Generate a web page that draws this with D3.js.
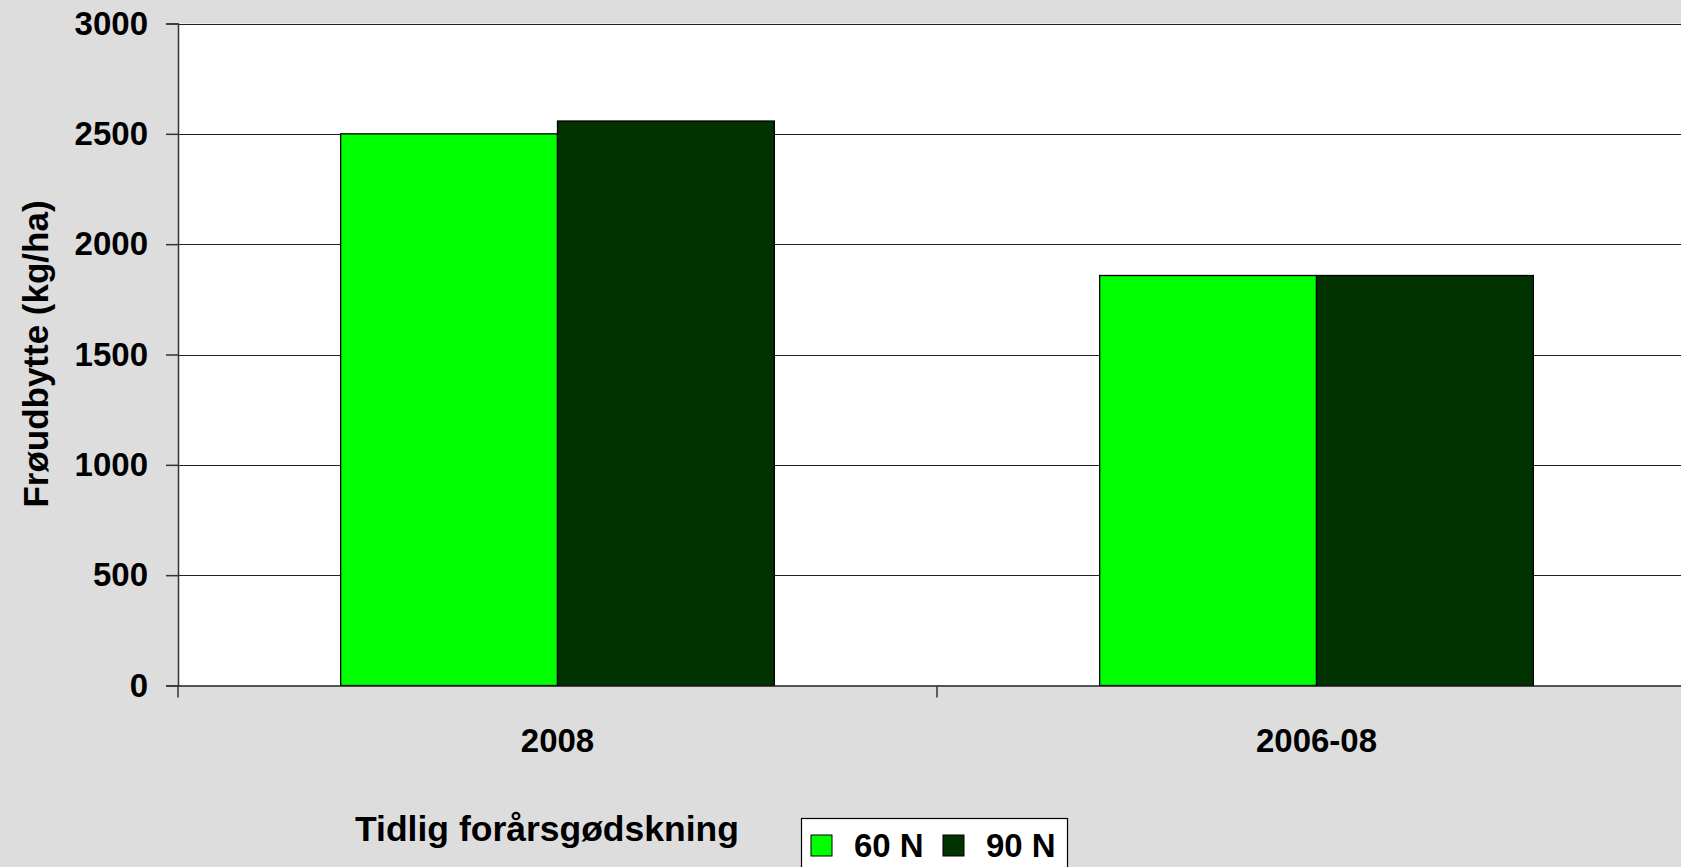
<!DOCTYPE html>
<html>
<head>
<meta charset="utf-8">
<script src="https://cdn.jsdelivr.net/npm/d3@7"></script>
<style>
  body { margin: 0; background: #dddddd; }
  svg { display: block; font-family: "Liberation Sans", Arial, sans-serif; font-weight: bold; }
</style>
</head>
<body>
<svg></svg>
<script>
let categories = ['2008', '2006-08']
let seriesNames = ['60 N', '90 N']
let seriesColors = ['#00ff00', '#003300']
let values60 = [2500, 1858]
let values90 = [2558, 1858]
let yTicks = [0, 500, 1000, 1500, 2000, 2500, 3000]

let width = 1681
let height = 867
let padLeft = 178
let padTop = 23.5
let plotW = 1518   // right side runs past the window, like the original
let plotH = 662

let svg = d3.select('svg').attr('width', width).attr('height', height)

let data = categories.map((c, i) => ({cat: c, vals: [values60[i], values90[i]]}))

let x0 = d3.scaleBand().domain(categories).range([padLeft, padLeft + plotW]).padding(0)
let x1 = d3.scaleBand().domain(seriesNames).range([0, x0.bandwidth()])
  .paddingInner(0).paddingOuter(0.75)
let y = d3.scaleLinear().domain([0, 3000]).range([padTop + plotH, padTop])

// plot background
svg.append('rect')
  .attr('x', padLeft).attr('y', padTop)
  .attr('width', plotW).attr('height', plotH)
  .attr('fill', '#fff')

// gridlines
svg.append('g')
  .selectAll('line')
  .data(yTicks.filter(t => t > 0))
  .enter()
  .append('line')
  .attr('x1', padLeft).attr('x2', padLeft + plotW)
  .attr('y1', d => Math.round(y(d)) + 0.5)
  .attr('y2', d => Math.round(y(d)) + 0.5)
  .attr('stroke', '#222').attr('stroke-width', 1.2)

// bars
let groups = svg.selectAll('.grp')
  .data(data)
  .enter()
  .append('g')
  .attr('class', 'grp')
  .attr('transform', d => 'translate(' + x0(d.cat) + ',0)')

groups.selectAll('rect')
  .data(d => d.vals.map((v, i) => ({name: seriesNames[i], v: v, c: seriesColors[i]})))
  .enter()
  .append('rect')
  .attr('x', d => x1(d.name))
  .attr('width', x1.bandwidth())
  .attr('y', d => y(d.v))
  .attr('height', d => y(0) - y(d.v))
  .attr('fill', d => d.c)
  .attr('stroke', '#000')
  .attr('stroke-width', 1.3)

// y axis
let yAxis = d3.axisLeft(y).tickValues(yTicks).tickFormat(d3.format('d'))
  .tickSize(12).tickPadding(18)
let gy = svg.append('g')
  .attr('transform', 'translate(' + padLeft + ',0)')
  .call(yAxis)
gy.select('.domain').attr('stroke', '#333').attr('stroke-width', 1.5)
gy.selectAll('.tick line').attr('stroke', '#333').attr('stroke-width', 1.5)
gy.selectAll('.tick text')
  .attr('font-size', 33).attr('font-family', '"Liberation Sans", Arial, sans-serif')
  .attr('font-weight', 'bold').attr('fill', '#000')

// x axis
let xAxis = d3.axisBottom(x0).tickSize(0).tickPadding(43)
let gx = svg.append('g')
  .attr('transform', 'translate(0,' + y(0) + ')')
  .call(xAxis)
gx.select('.domain').attr('stroke', '#222').attr('stroke-width', 1.5)
gx.selectAll('.tick text')
  .attr('font-size', 33).attr('font-family', '"Liberation Sans", Arial, sans-serif')
  .attr('font-weight', 'bold').attr('fill', '#000')

// category separators
gx.selectAll('.sep')
  .data(d3.range(categories.length + 1))
  .enter()
  .append('line')
  .attr('class', 'sep')
  .attr('x1', i => padLeft + i * x0.step()).attr('x2', i => padLeft + i * x0.step())
  .attr('y1', 0).attr('y2', 12)
  .attr('stroke', '#333').attr('stroke-width', 1.5)

// axis titles
svg.append('text')
  .attr('transform', 'translate(35,354) rotate(-90)')
  .attr('text-anchor', 'middle')
  .attr('dominant-baseline', 'central')
  .attr('font-size', 35)
  .text('Frøudbytte (kg/ha)')

svg.append('text')
  .attr('x', 547).attr('y', 841)
  .attr('text-anchor', 'middle')
  .attr('font-size', 35.5)
  .text('Tidlig forårsgødskning')

// legend
let legend = svg.append('g').attr('transform', 'translate(801,818)')
legend.append('rect')
  .attr('x', 0.5).attr('y', 0.5)
  .attr('width', 266).attr('height', 60)
  .attr('fill', '#fff').attr('stroke', '#000').attr('stroke-width', 1.2)

let legendX = [10, 142]
seriesNames.forEach((s, i) => {
  legend.append('rect')
    .attr('x', legendX[i]).attr('y', 17)
    .attr('width', 21).attr('height', 21)
    .attr('fill', seriesColors[i]).attr('stroke', '#000').attr('stroke-width', 1)
  legend.append('text')
    .attr('x', legendX[i] + 43).attr('y', 39)
    .attr('font-size', 33)
    .text(s)
})
</script>
</body>
</html>
